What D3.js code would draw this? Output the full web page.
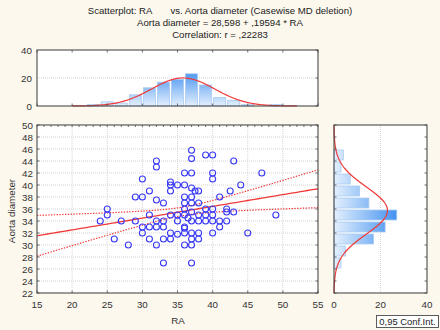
<!DOCTYPE html>
<html>
<head>
<meta charset="utf-8">
<script src="https://cdn.jsdelivr.net/npm/d3@7"></script>
<style>
  body { margin: 0; background: #fdf8ee; }
  svg { display: block; font-family: "Liberation Sans", Arial, sans-serif; }
</style>
</head>
<body>
<svg id="chart" width="440" height="330"></svg>
<script>
// scatter points (RA, Aorta diameter)
const raValues = [24, 25, 25, 26, 27, 28, 29, 29, 30, 30, 30, 30, 31, 31, 31, 31,
    32, 32, 32, 32, 32, 32, 33, 33, 33, 33, 33, 34, 34, 34, 34, 34, 34,
    35, 35, 35, 35, 36, 36, 36, 36, 36, 36, 36, 36, 36, 36, 36.5,
    37, 37, 37, 37, 37, 37, 37, 37, 37, 37, 37, 37,
    37.5, 38, 38, 38, 38, 38, 38, 39, 39, 39, 39,
    40, 40, 40, 40, 40, 40, 40, 41, 41, 41, 42, 42, 42, 42.5, 43, 43, 44, 45, 47, 49];
const aortaValues = [34, 36, 35, 31, 34, 30, 38, 34, 41, 38, 33, 32, 39, 35, 33, 31,
    44, 43, 37.5, 34, 33, 30, 37, 34, 33, 31, 27, 40.5, 40, 39, 35, 32, 31,
    40, 35, 34, 31.8, 42, 40, 38, 37, 36, 35, 33, 32.8, 32, 30, 34.5,
    45.8, 44.4, 42, 39.5, 38, 37, 35.5, 34, 32, 31, 30, 27,
    39, 39, 37, 35, 34, 32, 31, 45, 36, 35, 34,
    45, 42, 41, 36, 35, 34, 32, 38, 34, 33, 36, 35.5, 34, 39, 44, 35.5, 40, 32, 42, 35];

// marginal histograms (bin width 2)
const raBinStart = [22, 24, 26, 28, 30, 32, 34, 36, 38, 40, 42, 44, 46, 48];
const raCounts = [1, 3, 2, 8, 13, 17, 19, 23, 15, 6, 4, 1, 0, 1];
const aortaBinStart = [26, 28, 30, 32, 34, 36, 38, 40, 42, 44];
const aortaCounts = [3, 5, 17, 22, 27, 15, 11, 7, 3, 4];

// fit statistics
const nCases = 113;
const intercept = 28.598, slope = 0.19594;
const raMean = 35.8, raSd = 4.5;
const aortaMean = 35.75, aortaSd = 3.92;
const residSd = 3.84, tCrit = 1.982;

const titleLines = [
    "Scatterplot: RA       vs. Aorta diameter (Casewise MD deletion)",
    "Aorta diameter = 28,598 + ,19594 * RA",
    "Correlation: r = ,22283"
];
const xTicks = [15, 20, 25, 30, 35, 40, 45, 50, 55];
const yTicks = d3.range(22, 51, 2);

const svg = d3.select("#chart");
const fmt = d => String(d).replace(".", ",");
const red = "#f03a3a", blue = "#3a3af5", frame = "#4a4a4a", grid = "#d4d4d4";

const main = { left: 37, right: 318, top: 125, bottom: 293 };
const topH = { left: 37, right: 318, top: 50, bottom: 106 };
const rightH = { left: 334, right: 427, top: 125, bottom: 293 };

const x = d3.scaleLinear().domain([15, 55]).range([main.left, main.right]);
const y = d3.scaleLinear().domain([22, 50]).range([main.bottom, main.top]);
const yTop = d3.scaleLinear().domain([0, 40]).range([topH.bottom, topH.top]);
const xRight = d3.scaleLinear().domain([0, 40]).range([rightH.left, rightH.right]);

// gradients for bars
const defs = svg.append("defs");
const gTop = defs.append("linearGradient").attr("id", "gTop")
    .attr("gradientUnits", "userSpaceOnUse")
    .attr("x1", 0).attr("x2", 0).attr("y1", yTop(0)).attr("y2", yTop(26));
gTop.append("stop").attr("offset", 0).attr("stop-color", "#e4f0fd");
gTop.append("stop").attr("offset", 1).attr("stop-color", "#3d8ef0");
const gRight = defs.append("linearGradient").attr("id", "gRight")
    .attr("gradientUnits", "userSpaceOnUse")
    .attr("y1", 0).attr("y2", 0).attr("x1", xRight(0)).attr("x2", xRight(28));
gRight.append("stop").attr("offset", 0).attr("stop-color", "#e4f0fd");
gRight.append("stop").attr("offset", 1).attr("stop-color", "#3d8ef0");

// titles
svg.selectAll("text.title").data(titleLines).join("text")
    .attr("class", "title")
    .attr("x", 220).attr("y", (d, i) => 14 + i * 12.2)
    .attr("text-anchor", "middle")
    .attr("font-size", 9.6).attr("fill", "#222")
    .style("white-space", "pre")
    .text(d => d);

// panel backgrounds
[main, topH, rightH].forEach(p => {
    svg.append("rect").attr("x", p.left).attr("y", p.top)
        .attr("width", p.right - p.left).attr("height", p.bottom - p.top)
        .attr("fill", "#fff");
});

// ---------- main scatter ----------
const gMain = svg.append("g");
gMain.selectAll("line.vg").data(xTicks.slice(1, -1)).join("line")
    .attr("x1", d => x(d)).attr("x2", d => x(d))
    .attr("y1", main.top).attr("y2", main.bottom)
    .attr("stroke", grid).attr("stroke-dasharray", "1,1");
gMain.selectAll("line.hg").data(yTicks.slice(1, -1)).join("line")
    .attr("y1", d => y(d)).attr("y2", d => y(d))
    .attr("x1", main.left).attr("x2", main.right)
    .attr("stroke", grid).attr("stroke-dasharray", "1,1");

// regression line and 95% band
const xs = d3.range(15, 55.01, 0.5);
const Sxx = (nCases - 1) * raSd * raSd;
const half = v => tCrit * residSd * Math.sqrt(1 / nCases + (v - raMean) ** 2 / Sxx);
const fit = v => intercept + slope * v;
const lineGen = f => d3.line().x(d => x(d)).y(d => y(f(d)))(xs);
gMain.append("path").attr("d", lineGen(fit))
    .attr("fill", "none").attr("stroke", red).attr("stroke-width", 1.3);
[v => fit(v) + half(v), v => fit(v) - half(v)].forEach(f => {
    gMain.append("path").attr("d", lineGen(f))
        .attr("fill", "none").attr("stroke", red).attr("stroke-width", 1.2)
        .attr("stroke-dasharray", "1.4,1.4");
});

gMain.selectAll("circle").data(raValues.map((d, i) => [d, aortaValues[i]])).join("circle")
    .attr("cx", d => x(d[0])).attr("cy", d => y(d[1])).attr("r", 3)
    .attr("fill", "none").attr("stroke", blue).attr("stroke-width", 1.1);

// frame ticks
const tickLen = 2.5;
gMain.selectAll("line.tt").data(d3.range(15, 56, 1)).join("line")
    .attr("x1", d => x(d)).attr("x2", d => x(d))
    .attr("y1", main.top).attr("y2", main.top + 2)
    .attr("stroke", frame).attr("stroke-width", 0.8);
gMain.selectAll("line.bt").data(xTicks).join("line")
    .attr("x1", d => x(d)).attr("x2", d => x(d))
    .attr("y1", main.bottom).attr("y2", main.bottom - tickLen)
    .attr("stroke", frame).attr("stroke-width", 0.8);
gMain.selectAll("line.lt").data(yTicks).join("line")
    .attr("y1", d => y(d)).attr("y2", d => y(d))
    .attr("x1", main.left).attr("x2", main.left + tickLen)
    .attr("stroke", frame).attr("stroke-width", 0.8);
gMain.selectAll("line.rt").data(yTicks).join("line")
    .attr("y1", d => y(d)).attr("y2", d => y(d))
    .attr("x1", main.right).attr("x2", main.right - tickLen)
    .attr("stroke", frame).attr("stroke-width", 0.8);

gMain.append("rect").attr("x", main.left).attr("y", main.top)
    .attr("width", main.right - main.left).attr("height", main.bottom - main.top)
    .attr("fill", "none").attr("stroke", frame).attr("stroke-width", 1.1);

gMain.selectAll("text.xt").data(xTicks).join("text")
    .attr("x", d => x(d)).attr("y", 307.5)
    .attr("text-anchor", "middle").attr("font-size", 9.8).attr("fill", "#333")
    .text(fmt);
gMain.selectAll("text.yt").data(yTicks).join("text")
    .attr("x", 33).attr("y", d => y(d) + 3.5)
    .attr("text-anchor", "end").attr("font-size", 9.8).attr("fill", "#333")
    .text(fmt);
svg.append("text").attr("x", 178).attr("y", 323.5)
    .attr("text-anchor", "middle").attr("font-size", 9.8).attr("fill", "#333").text("RA");
svg.append("text").attr("transform", "translate(15,211) rotate(-90)")
    .attr("text-anchor", "middle").attr("font-size", 9.8).attr("fill", "#333")
    .text("Aorta diameter");

// ---------- top histogram ----------
const gTopH = svg.append("g");
gTopH.append("line").attr("x1", topH.left).attr("x2", topH.right)
    .attr("y1", yTop(20)).attr("y2", yTop(20))
    .attr("stroke", grid).attr("stroke-dasharray", "1,1");
gTopH.selectAll("rect.bar").data(raCounts.map((c, i) => [raBinStart[i], c]).filter(d => d[1] > 0)).join("rect")
    .attr("x", d => x(d[0]) + 1).attr("width", d => x(d[0] + 2) - x(d[0]) - 2)
    .attr("y", d => yTop(d[1])).attr("height", d => yTop(0) - yTop(d[1]))
    .attr("fill", "url(#gTop)").attr("stroke", "#a9cbf0").attr("stroke-width", 0.8);
const xsTop = d3.range(20, 52.01, 0.25);
const normTop = v => nCases * 2 / (raSd * Math.sqrt(2 * Math.PI)) * Math.exp(-0.5 * ((v - raMean) / raSd) ** 2);
gTopH.append("path")
    .attr("d", d3.line().x(d => x(d)).y(d => yTop(normTop(d)))(xsTop))
    .attr("fill", "none").attr("stroke", red).attr("stroke-width", 1.2);
gTopH.selectAll("line.tt").data(xTicks).join("line")
    .attr("x1", d => x(d)).attr("x2", d => x(d))
    .attr("y1", topH.top).attr("y2", topH.top + tickLen)
    .attr("stroke", frame).attr("stroke-width", 0.8);
gTopH.selectAll("line.bt").data(xTicks).join("line")
    .attr("x1", d => x(d)).attr("x2", d => x(d))
    .attr("y1", topH.bottom).attr("y2", topH.bottom - tickLen)
    .attr("stroke", frame).attr("stroke-width", 0.8);
gTopH.selectAll("line.rt").data([0, 20, 40]).join("line")
    .attr("y1", d => yTop(d)).attr("y2", d => yTop(d))
    .attr("x1", topH.right).attr("x2", topH.right - tickLen)
    .attr("stroke", frame).attr("stroke-width", 0.8);
gTopH.append("rect").attr("x", topH.left).attr("y", topH.top)
    .attr("width", topH.right - topH.left).attr("height", topH.bottom - topH.top)
    .attr("fill", "none").attr("stroke", frame).attr("stroke-width", 1.1);
gTopH.selectAll("text").data([0, 20, 40]).join("text")
    .attr("x", 32).attr("y", d => yTop(d) + 3.5)
    .attr("text-anchor", "end").attr("font-size", 9.8).attr("fill", "#333")
    .text(d => d);

// ---------- right histogram ----------
const gRightH = svg.append("g");
gRightH.append("line").attr("x1", xRight(20)).attr("x2", xRight(20))
    .attr("y1", rightH.top).attr("y2", rightH.bottom)
    .attr("stroke", grid).attr("stroke-dasharray", "1,1");
gRightH.selectAll("rect.bar").data(aortaCounts.map((c, i) => [aortaBinStart[i], c])).join("rect")
    .attr("x", xRight(0)).attr("width", d => xRight(d[1]) - xRight(0))
    .attr("y", d => y(d[0] + 2) + 1).attr("height", d => y(d[0]) - y(d[0] + 2) - 2)
    .attr("fill", "url(#gRight)").attr("stroke", "#a9cbf0").attr("stroke-width", 0.8);
const ysRight = d3.range(22, 50.01, 0.25);
const normRight = v => nCases * 2 / (aortaSd * Math.sqrt(2 * Math.PI)) * Math.exp(-0.5 * ((v - aortaMean) / aortaSd) ** 2);
gRightH.append("path")
    .attr("d", d3.line().x(d => xRight(normRight(d))).y(d => y(d))(ysRight))
    .attr("fill", "none").attr("stroke", red).attr("stroke-width", 1.2);
gRightH.selectAll("line.lt").data(yTicks).join("line")
    .attr("y1", d => y(d)).attr("y2", d => y(d))
    .attr("x1", rightH.left).attr("x2", rightH.left + tickLen)
    .attr("stroke", frame).attr("stroke-width", 0.8);
gRightH.selectAll("line.rt").data(yTicks).join("line")
    .attr("y1", d => y(d)).attr("y2", d => y(d))
    .attr("x1", rightH.right).attr("x2", rightH.right - tickLen)
    .attr("stroke", frame).attr("stroke-width", 0.8);
gRightH.append("rect").attr("x", rightH.left).attr("y", rightH.top)
    .attr("width", rightH.right - rightH.left).attr("height", rightH.bottom - rightH.top)
    .attr("fill", "none").attr("stroke", frame).attr("stroke-width", 1.1);
gRightH.selectAll("text").data([0, 20, 40]).join("text")
    .attr("x", d => xRight(d)).attr("y", 307.5)
    .attr("text-anchor", "middle").attr("font-size", 9.8).attr("fill", "#333")
    .text(d => d);

// legend box
svg.append("rect").attr("x", 376.5).attr("y", 315.5).attr("width", 62).attr("height", 12)
    .attr("fill", "#fff").attr("stroke", frame).attr("stroke-width", 0.9);
svg.append("text").attr("x", 407.5).attr("y", 325)
    .attr("text-anchor", "middle").attr("font-size", 9.4).attr("fill", "#222")
    .text("0,95 Conf.Int.");
</script>
</body>
</html>
